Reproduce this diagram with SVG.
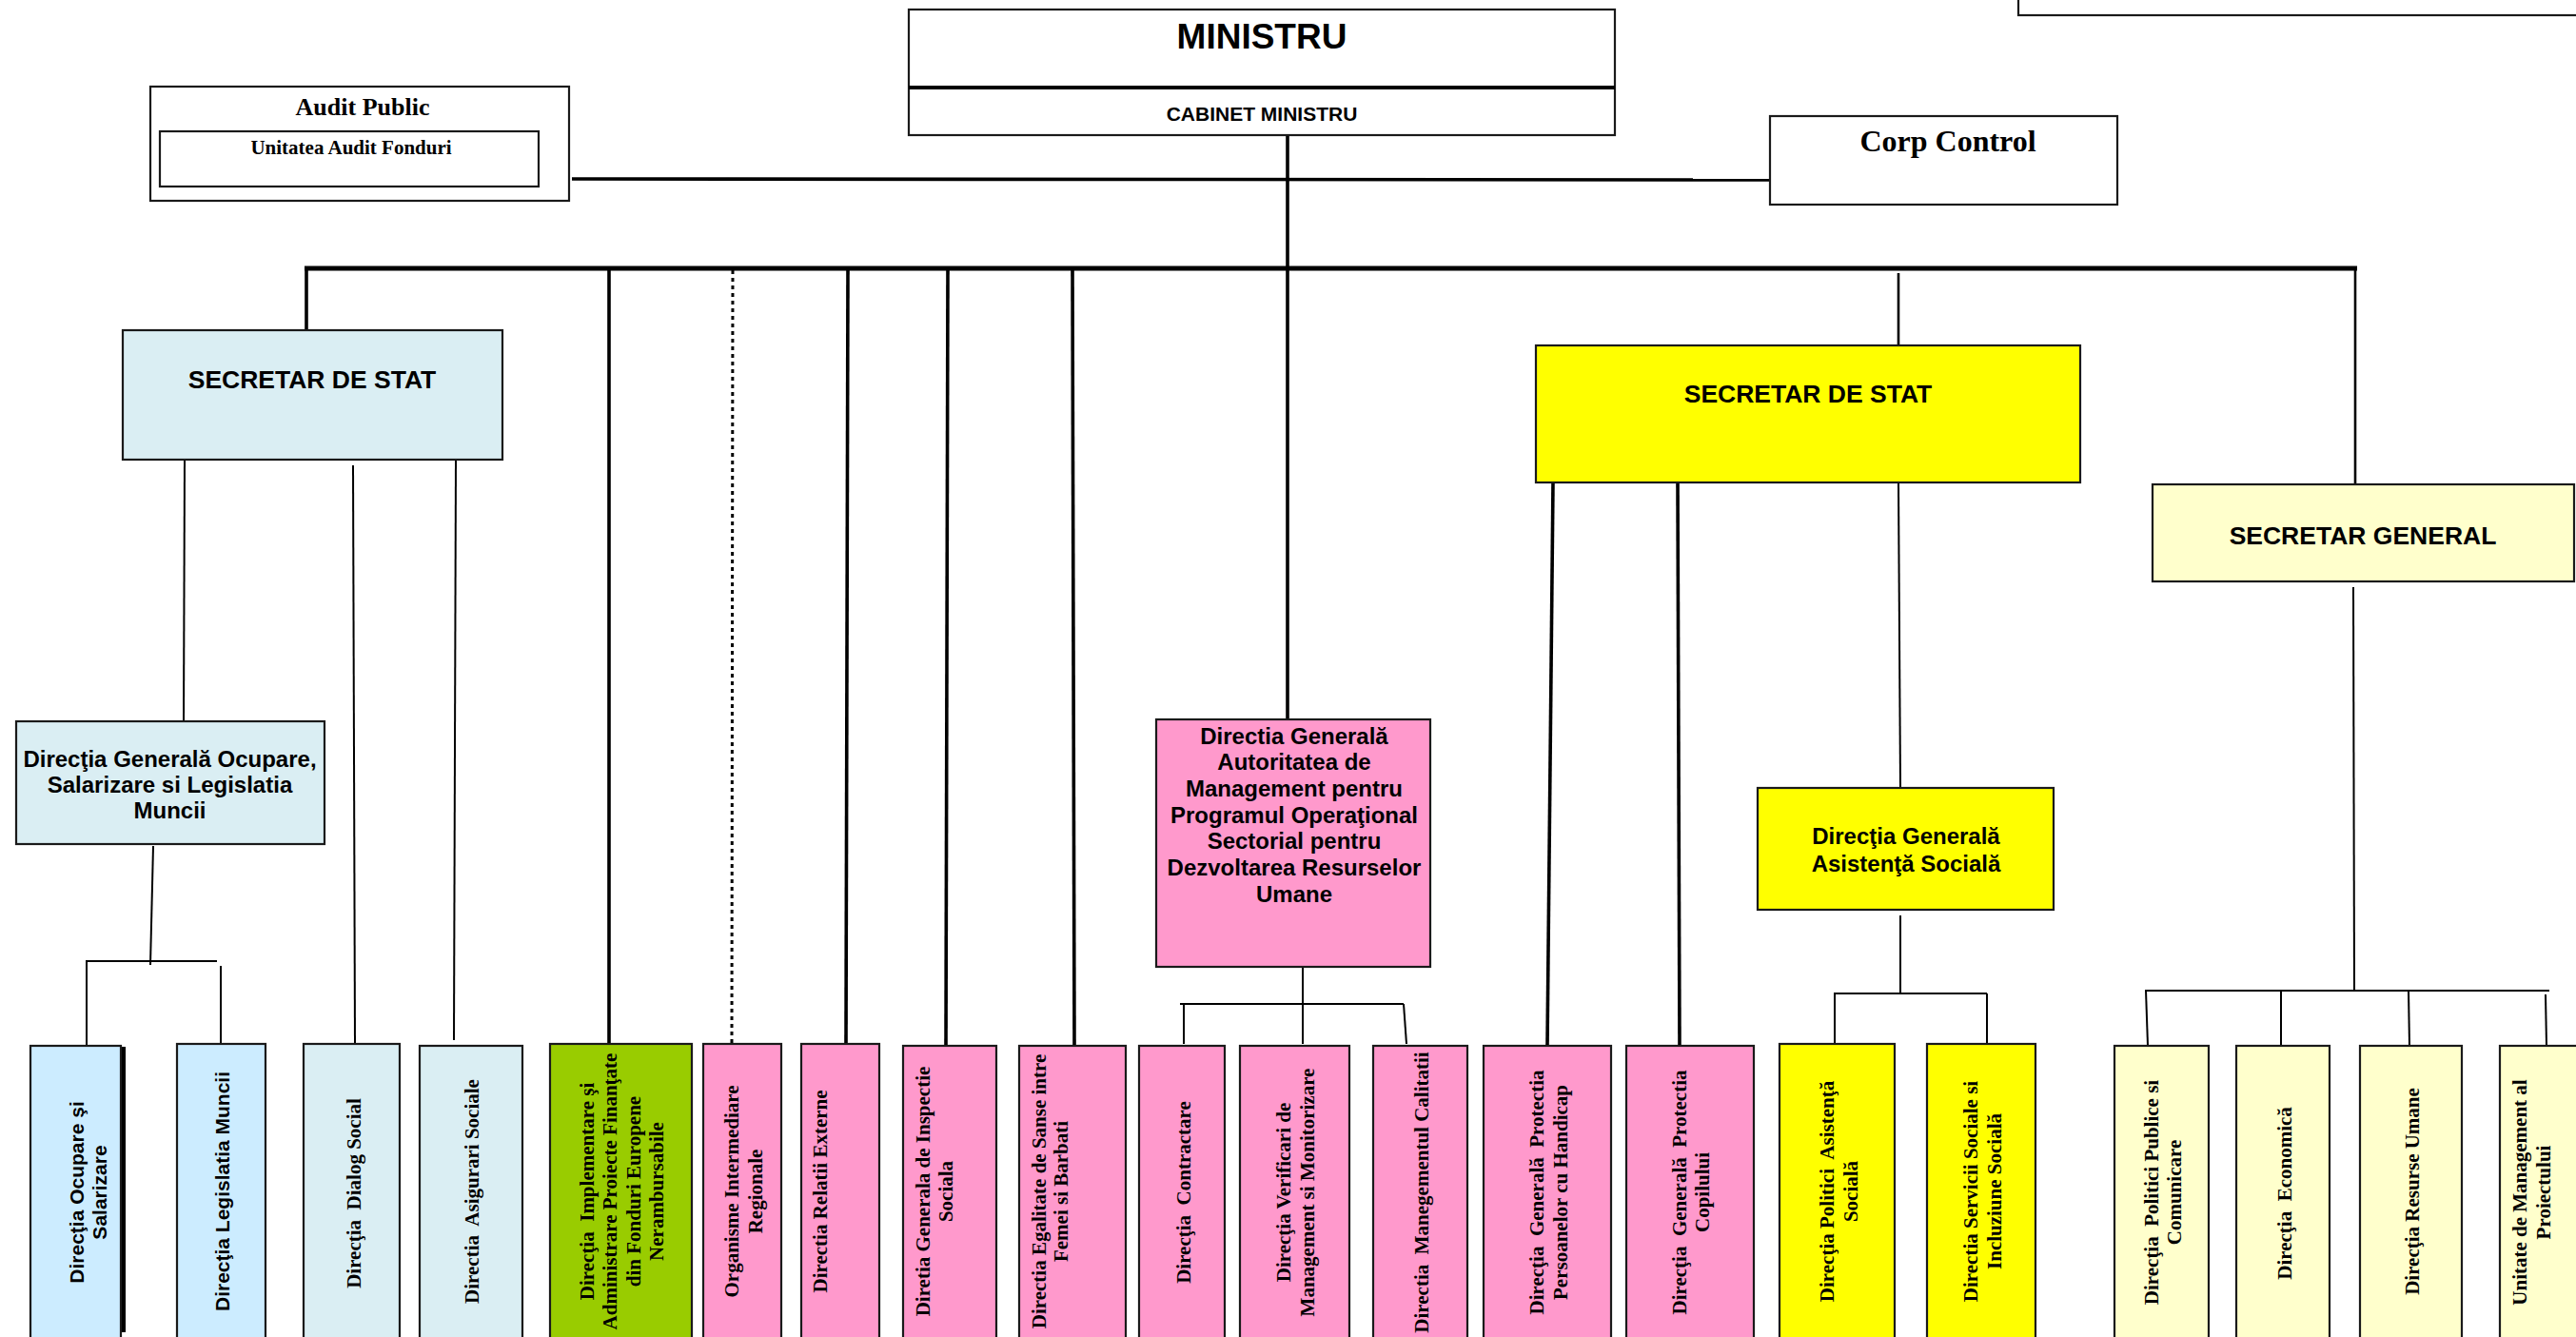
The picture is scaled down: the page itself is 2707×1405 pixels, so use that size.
<svg xmlns="http://www.w3.org/2000/svg" width="2707" height="1405" viewBox="0 0 2707 1405">
<style>
.box{stroke:#1a1a1a;stroke-width:2.2}
.w{fill:#ffffff}
.lb{fill:#DAEEF3}
.cb{fill:#CCECFF}
.gr{fill:#99CC00}
.pk{fill:#FF99CC}
.ye{fill:#FFFF00}
.ly{fill:#FFFFCC}
.sans{font-family:"Liberation Sans",Arial,sans-serif;font-weight:bold;fill:#000;white-space:pre}
.serif{font-family:"Liberation Serif","Times New Roman",serif;font-weight:bold;fill:#000;white-space:pre}
.c{text-anchor:middle}
.v{font-size:21px}
.ln{stroke:#000;fill:none}
.thin{stroke-width:2}
.med{stroke-width:2.6}
.thk{stroke-width:3.6}
.bus{stroke-width:5}
</style>
<rect x="0" y="0" width="2707" height="1405" fill="#ffffff"/>

<g id="connectors">
<line class="ln thk" x1="601" y1="188" x2="1860" y2="189"/>
<line class="ln thk" x1="1353" y1="142" x2="1353" y2="756"/>
<line class="ln bus" x1="320" y1="282" x2="2477" y2="282"/>
<line class="ln thk" x1="322" y1="282" x2="322" y2="347"/>
<line class="ln thk" x1="640" y1="282" x2="640" y2="1097"/>
<line class="ln" stroke-width="3" stroke-dasharray="4,4" x1="770" y1="284" x2="769" y2="1097"/>
<line class="ln thk" x1="891" y1="282" x2="889" y2="1097"/>
<line class="ln thk" x1="996" y1="282" x2="994" y2="1099"/>
<line class="ln thk" x1="1127" y1="282" x2="1129" y2="1099"/>
<line class="ln med" x1="1995" y1="287" x2="1995" y2="363"/>
<line class="ln med" x1="2475" y1="282" x2="2475" y2="509"/>
<line class="ln thin" x1="194" y1="483" x2="193" y2="758"/>
<line class="ln thin" x1="371" y1="489" x2="373" y2="1097"/>
<line class="ln thin" x1="479" y1="483" x2="477" y2="1093"/>
<line class="ln thin" x1="161" y1="889" x2="158" y2="1014"/>
<line class="ln thin" x1="90" y1="1010" x2="228" y2="1010"/>
<line class="ln thin" x1="91" y1="1010" x2="91" y2="1099"/>
<line class="ln thin" x1="232" y1="1015" x2="232" y2="1097"/>
<line class="ln thin" x1="1369" y1="1016" x2="1369" y2="1097"/>
<line class="ln thin" x1="1240" y1="1055" x2="1475" y2="1055"/>
<line class="ln thin" x1="1244" y1="1055" x2="1244" y2="1097"/>
<line class="ln thin" x1="1475" y1="1055" x2="1478" y2="1097"/>
<line class="ln thk" x1="1632" y1="507" x2="1626" y2="1099"/>
<line class="ln thk" x1="1763" y1="507" x2="1765" y2="1099"/>
<line class="ln thin" x1="1995" y1="507" x2="1997" y2="827"/>
<line class="ln thin" x1="1997" y1="962" x2="1997" y2="1045"/>
<line class="ln thin" x1="1927" y1="1044" x2="2088" y2="1044"/>
<line class="ln thin" x1="1928" y1="1044" x2="1928" y2="1097"/>
<line class="ln thin" x1="2088" y1="1044" x2="2088" y2="1097"/>
<line class="ln thin" x1="2473" y1="617" x2="2474" y2="1042"/>
<line class="ln thin" x1="2254" y1="1041" x2="2679" y2="1041"/>
<line class="ln thin" x1="2255" y1="1041" x2="2257" y2="1099"/>
<line class="ln thin" x1="2397" y1="1041" x2="2397" y2="1099"/>
<line class="ln thin" x1="2531" y1="1041" x2="2532" y2="1099"/>
<line class="ln thin" x1="2675" y1="1045" x2="2676" y2="1099"/>
</g>

<g id="top-right-box">
<rect class="box w" x="2121" y="-10" width="620" height="26"/>
</g>

<g id="ministru">
<rect class="box w" x="955" y="10" width="742" height="132"/>
<line class="ln" stroke-width="4" x1="955" y1="92" x2="1697" y2="92"/>
<text class="sans c" x="1326" y="51" font-size="37">MINISTRU</text>
<text class="sans c" x="1326" y="126.5" font-size="21">CABINET MINISTRU</text>
</g>

<g id="audit-public">
<rect class="box w" x="158" y="91" width="440" height="120"/>
<rect class="box w" x="168" y="138" width="398" height="58"/>
<text class="serif c" x="381" y="121" font-size="26">Audit Public</text>
<text class="serif c" x="369" y="162" font-size="21">Unitatea Audit Fonduri</text>
</g>

<g id="corp-control">
<rect class="box w" x="1860" y="122" width="365" height="93"/>
<text class="serif c" x="2047" y="159" font-size="32">Corp Control</text>
</g>

<g id="secretar-stat-1">
<rect class="box lb" x="129" y="347" width="399" height="136"/>
<text class="sans c" x="328" y="408" font-size="26.5">SECRETAR DE STAT</text>
</g>

<g id="secretar-stat-2">
<rect class="box ye" x="1614" y="363" width="572" height="144"/>
<text class="sans c" x="1900" y="423" font-size="26.5">SECRETAR DE STAT</text>
</g>

<g id="secretar-general">
<rect class="box ly" x="2262" y="509" width="443" height="102"/>
<text class="sans c" x="2483" y="572" font-size="26.5">SECRETAR GENERAL</text>
</g>

<g id="dg-ocupare">
<rect class="box lb" x="17" y="758" width="324" height="129"/>
<text class="sans c" font-size="24" x="178.5" y="805.6">Direcţia Generală Ocupare,</text>
<text class="sans c" font-size="24" x="178.5" y="832.6">Salarizare si Legislatia</text>
<text class="sans c" font-size="24" x="178.5" y="859.6">Muncii</text>
</g>

<g id="dg-autoritatea">
<rect class="box pk" x="1215" y="756" width="288" height="260"/>
<text class="sans c" font-size="24" x="1360" y="781.6">Directia Generală</text>
<text class="sans c" font-size="24" x="1360" y="809.3">Autoritatea de</text>
<text class="sans c" font-size="24" x="1360" y="837">Management pentru</text>
<text class="sans c" font-size="24" x="1360" y="864.7">Programul Operaţional</text>
<text class="sans c" font-size="24" x="1360" y="892.4">Sectorial pentru</text>
<text class="sans c" font-size="24" x="1360" y="920.1">Dezvoltarea Resurselor</text>
<text class="sans c" font-size="24" x="1360" y="947.8">Umane</text>
</g>

<g id="dg-asistenta">
<rect class="box ye" x="1847" y="828" width="311" height="128"/>
<text class="sans c" font-size="24" x="2003" y="887">Direcţia Generală</text>
<text class="sans c" font-size="24" x="2003" y="915.5">Asistenţă Socială</text>
</g>

<g id="d-ocupare-salarizare">
<rect x="128" y="1100" width="4" height="300" fill="#000"/>
<rect class="box cb" x="32" y="1099" width="95" height="330"/>
<text class="sans c v" transform="translate(87.5,1253) rotate(-90)">Direcţia Ocupare şi</text>
<text class="sans c v" transform="translate(111.5,1253) rotate(-90)">Salarizare</text>
</g>
<g id="d-legislatia">
<rect class="box cb" x="186" y="1097" width="93" height="330"/>
<text class="sans c v" transform="translate(240.5,1252) rotate(-90)">Direcţia Legislatia Muncii</text>
</g>
<g id="d-dialog">
<rect class="box lb" x="319" y="1097" width="101" height="330"/>
<text class="serif c v" transform="translate(378.5,1254) rotate(-90)">Direcţia  Dialog Social</text>
</g>
<g id="d-asigurari">
<rect class="box lb" x="441" y="1099" width="108" height="330"/>
<text class="serif c v" transform="translate(502.5,1252) rotate(-90)">Directia  Asigurari Sociale</text>
</g>
<g id="d-implementare">
<rect class="box gr" x="578" y="1097" width="149" height="330"/>
<text class="serif c v" transform="translate(623.5,1252) rotate(-90)">Direcţia  Implementare şi</text>
<text class="serif c v" transform="translate(647.5,1252) rotate(-90)">Administrare Proiecte Finanţate</text>
<text class="serif c v" transform="translate(672.5,1252) rotate(-90)">din Fonduri Europene</text>
<text class="serif c v" transform="translate(696.5,1252) rotate(-90)">Nerambursabile</text>
</g>
<g id="d-organisme">
<rect class="box pk" x="739" y="1097" width="82" height="330"/>
<text class="serif c v" transform="translate(775.5,1252) rotate(-90)">Organisme Intermediare</text>
<text class="serif c v" transform="translate(800.5,1252) rotate(-90)">Regionale</text>
</g>
<g id="d-relatii">
<rect class="box pk" x="842" y="1097" width="82" height="330"/>
<text class="serif c v" transform="translate(868.5,1252) rotate(-90)">Directia Relatii Externe</text>
</g>
<g id="d-inspectie">
<rect class="box pk" x="949" y="1099" width="98" height="330"/>
<text class="serif c v" transform="translate(976.5,1252) rotate(-90)">Diretia Generala de Inspectie</text>
<text class="serif c v" transform="translate(1000.5,1252) rotate(-90)">Sociala</text>
</g>
<g id="d-egalitate">
<rect class="box pk" x="1071" y="1099" width="112" height="330"/>
<text class="serif c v" transform="translate(1098.5,1252) rotate(-90)">Directia Egalitate de Sanse intre</text>
<text class="serif c v" transform="translate(1121.5,1252) rotate(-90)">Femei si Barbati</text>
</g>
<g id="d-contractare">
<rect class="box pk" x="1197" y="1099" width="90" height="330"/>
<text class="serif c v" transform="translate(1250.5,1253) rotate(-90)">Direcţia  Contractare</text>
</g>
<g id="d-verificari">
<rect class="box pk" x="1303" y="1099" width="115" height="330"/>
<text class="serif c v" transform="translate(1355.5,1253) rotate(-90)">Direcţia Verificari de</text>
<text class="serif c v" transform="translate(1380.5,1253) rotate(-90)">Management si Monitorizare</text>
</g>
<g id="d-calitatii">
<rect class="box pk" x="1443" y="1099" width="99" height="330"/>
<text class="serif c v" transform="translate(1500.5,1253) rotate(-90)">Directia  Manegementul Calitatii</text>
</g>
<g id="dg-handicap">
<rect class="box pk" x="1559" y="1099" width="134" height="330"/>
<text class="serif c v" transform="translate(1621.5,1253) rotate(-90)">Direcţia  Generală  Protectia</text>
<text class="serif c v" transform="translate(1646.5,1253) rotate(-90)">Persoanelor cu Handicap</text>
</g>
<g id="dg-copilului">
<rect class="box pk" x="1709" y="1099" width="134" height="330"/>
<text class="serif c v" transform="translate(1771.5,1253) rotate(-90)">Direcţia  Generală  Protectia</text>
<text class="serif c v" transform="translate(1795.5,1253) rotate(-90)">Copilului</text>
</g>
<g id="d-politici-asistenta">
<rect class="box ye" x="1870" y="1097" width="121" height="330"/>
<text class="serif c v" transform="translate(1926.5,1252) rotate(-90)">Direcţia Politici  Asistenţă</text>
<text class="serif c v" transform="translate(1951.5,1252) rotate(-90)">Socială</text>
</g>
<g id="d-servicii-sociale">
<rect class="box ye" x="2025" y="1097" width="114" height="330"/>
<text class="serif c v" transform="translate(2077.5,1252) rotate(-90)">Directia Servicii Sociale si</text>
<text class="serif c v" transform="translate(2102.5,1252) rotate(-90)">Incluziune Socială</text>
</g>
<g id="d-politici-publice">
<rect class="box ly" x="2222" y="1099" width="99" height="330"/>
<text class="serif c v" transform="translate(2267.5,1253) rotate(-90)">Direcţia  Politici Publice si</text>
<text class="serif c v" transform="translate(2291.5,1253) rotate(-90)">Comunicare</text>
</g>
<g id="d-economica">
<rect class="box ly" x="2350" y="1099" width="98" height="330"/>
<text class="serif c v" transform="translate(2407.5,1254) rotate(-90)">Direcţia  Economică</text>
</g>
<g id="d-resurse-umane">
<rect class="box ly" x="2480" y="1099" width="107" height="330"/>
<text class="serif c v" transform="translate(2541.5,1252) rotate(-90)">Direcţia Resurse Umane</text>
</g>
<g id="unitate-management">
<rect class="box ly" x="2627" y="1099" width="110" height="330"/>
<text class="serif c v" transform="translate(2654.5,1253) rotate(-90)">Unitate de Management al</text>
<text class="serif c v" transform="translate(2679.5,1253) rotate(-90)">Proiectului</text>
</g>
</svg>
